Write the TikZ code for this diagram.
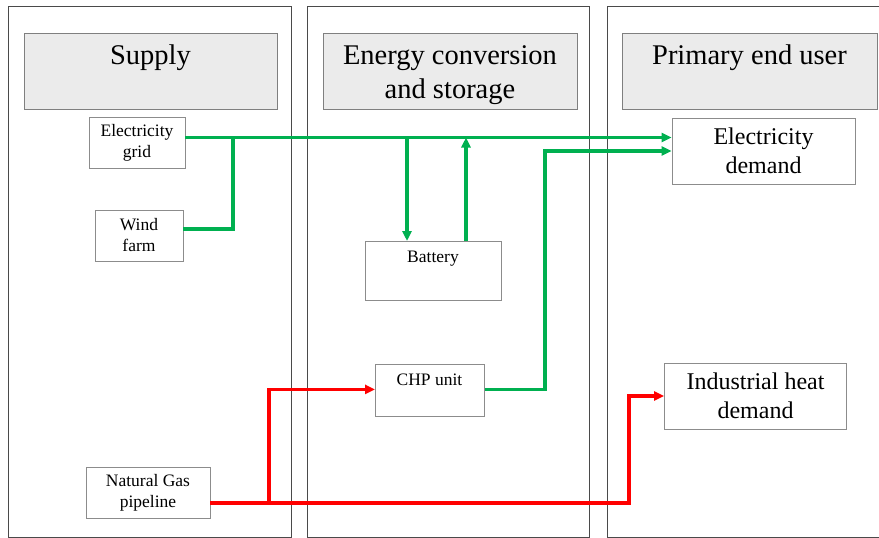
\documentclass[tikz,border=0pt]{standalone}
\usepackage{fontspec}
\setmainfont{Liberation Serif}
\usetikzlibrary{arrows.meta}
\definecolor{elgreen}{HTML}{00B050}
\definecolor{gasred}{HTML}{FF0000}
\definecolor{hdrfill}{HTML}{EBEBEB}
\definecolor{hdrdraw}{HTML}{7F7F7F}
\definecolor{boxdraw}{HTML}{8C8C8C}
\definecolor{paneldraw}{HTML}{4A4A4A}
\tikzset{
  panel/.style={draw=paneldraw, line width=1.3pt, anchor=north west, inner sep=0pt},
  header/.style={draw=hdrdraw, fill=hdrfill, line width=0.9pt, anchor=north west, inner sep=0pt},
  hdrtext/.style={font=\fontsize{28.5}{34}\selectfont, anchor=base, inner sep=0pt},
  smallbox/.style={draw=boxdraw, line width=0.8pt, inner sep=0pt, align=center,
    font=\fontsize{17.5}{21}\selectfont},
  bigbox/.style={draw=boxdraw, line width=0.8pt, inner sep=0pt, align=center,
    font=\fontsize{24}{28.5}\selectfont},
  boxtext/.style={font=\fontsize{17.5}{21}\selectfont, anchor=base, inner sep=0pt},
  gline/.style={draw=elgreen, line width=3.2pt},
  rline/.style={draw=gasred, line width=3.2pt},
  gtip/.style={-{Triangle[length=10pt,width=9pt]}},
}
\begin{document}
\begin{tikzpicture}[x=1pt,y=-1pt]
\useasboundingbox (0,0) rectangle (879,538);
% panels
\node[panel, minimum width=283pt, minimum height=531pt] (psupply) at (8,5.5) {};
\node[panel, minimum width=282pt, minimum height=531pt] (pconv) at (307,5.5) {};
\node[panel, minimum width=300pt, minimum height=531pt] (puser) at (607,5.5) {};
% headers
\node[header, minimum width=253pt, minimum height=76pt] (hsupply) at (24,33) {};
\node[header, minimum width=254pt, minimum height=76pt] (hconv) at (323,33) {};
\node[header, minimum width=255pt, minimum height=76pt] (huser) at (622,33) {};
\node[hdrtext] (tsupply) at (150.5,64) {Supply};
\node[hdrtext] (tconv1) at (450,64.5) {Energy conversion};
\node[hdrtext] (tconv2) at (450,98) {and storage};
\node[hdrtext] (tuser) at (749.5,64) {Primary end user};
% supply boxes
\node[smallbox, minimum width=96pt, minimum height=51pt] (grid) at (137,142.5) {Electricity\\grid};
\node[smallbox, minimum width=88pt, minimum height=51pt] (wind) at (139,235.5) {Wind\\farm};
\node[smallbox, minimum width=124pt, minimum height=51pt] (gas) at (148,492.5) {Natural Gas\\pipeline};
% conversion boxes
\node[smallbox, minimum width=136pt, minimum height=59pt, anchor=north west] (bat) at (365,241) {};
\node[boxtext] (battxt) at (433,262) {Battery};
\node[smallbox, minimum width=109pt, minimum height=52pt, anchor=north west] (chp) at (375,364) {};
\node[boxtext] (chptxt) at (429.5,385) {CHP unit};
% user boxes
\node[bigbox, minimum width=183pt, minimum height=66pt] (edem) at (763.5,151) {Electricity\\demand};
\node[bigbox, minimum width=182pt, minimum height=66pt] (ind) at (755.5,396) {Industrial heat\\demand};
% junction coordinates
\coordinate (gy) at (0,137.5);
\coordinate (wj) at (233,137.5);
\coordinate (bd) at (407,137.5);
\coordinate (bu) at (466,137.5);
\coordinate (c1) at (545,151);
\coordinate (r1) at (629,503);
\coordinate (r2) at (269,503);
% green connectors
\draw[gline, gtip] (grid.east |- gy) -- (edem.west |- gy);
\draw[gline] ([yshift=6.5pt]wind.east) -| (wj);
\draw[gline, gtip] (bd) -- (bd |- bat.north);
\draw[gline, gtip] (bu |- bat.north) -- (bu);
\draw[gline, gtip] ([yshift=1pt]chp.east) -| (c1) -- (c1 -| edem.west);
% red connectors
\draw[rline, gtip] ([yshift=-10.5pt]gas.east) -- (r1) |- (ind.west);
\draw[rline, gtip] (r2) |- ([yshift=1pt]chp.west);
\end{tikzpicture}
\end{document}
